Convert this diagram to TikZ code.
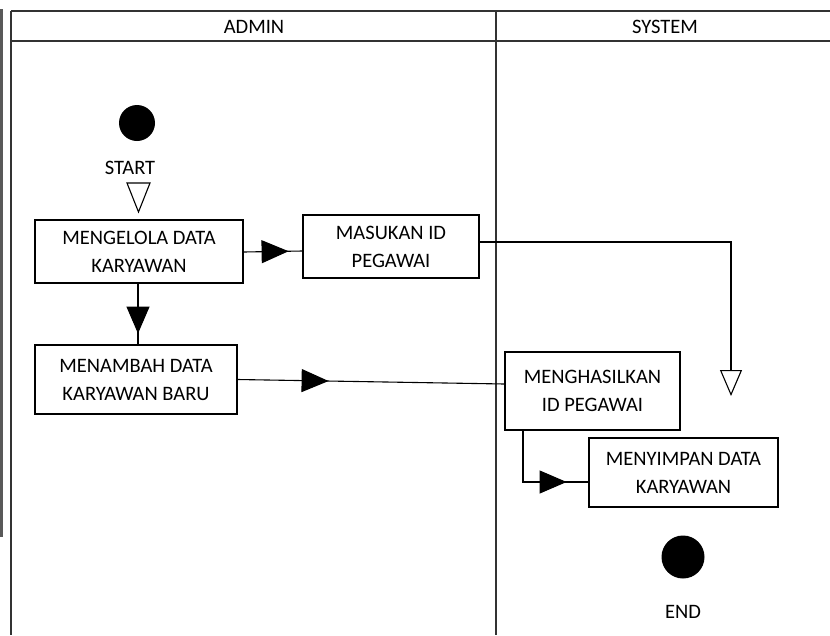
\documentclass[tikz,border=0pt]{standalone}
\usepackage{fontspec}
\setmainfont{Carlito}
\usetikzlibrary{arrows.meta,decorations.markings}
\tikzset{
  frameline/.style={line width=1.6pt, draw=black!80},
  actbox/.style={draw, line width=1.2pt, align=center, inner sep=0pt,
    font=\fontsize{20.5}{28}\selectfont},
  lbl/.style={inner sep=0pt, font=\fontsize{20.5}{24}\selectfont},
  conn/.style={line width=1.1pt},
  midtip/.style={postaction={decorate}, decoration={markings,
    mark=at position #1 with {\arrow{Triangle[width=23pt,length=27pt]}}}},
  opentip/.style={-{Triangle[open,width=22pt,length=26pt,line width=1.1pt]}},
  dot/.style={circle, fill=black, inner sep=0pt}
}
\begin{document}
\begin{tikzpicture}[x=1pt,y=-1pt]
\useasboundingbox (0,0) rectangle (830,635);
% stray bar at left edge
\draw[line width=2.4pt, draw=black!65] (1.3,9) -- (1.3,537);
% swimlane frame
\coordinate (tl) at (11,11);
\coordinate (tr) at (830,11);
\coordinate (hl) at (11,41);
\coordinate (hr) at (830,41);
\coordinate (bl) at (11,635);
\coordinate (dt) at (496,11);
\coordinate (db) at (496,635);
\draw[frameline] (tl) -- (tr);
\draw[frameline] (hl) -- (hr);
\draw[frameline] (tl) -- (bl);
\draw[frameline] (dt) -- (db);
\node[lbl] (admin) at (254,27) {ADMIN};
\node[lbl] (system) at (665,27) {SYSTEM};
% start
\node[dot, minimum size=36pt] (start) at (137,123) {};
\node[lbl] (startlbl) at (130,168) {START};
\coordinate (sa1) at (127,183);
\coordinate (sa2) at (150,183);
\coordinate (sa3) at (138.5,212);
\draw[line width=1.1pt, line join=miter] (sa1) -- (sa2) -- (sa3) -- cycle;
% activities
\node[actbox, minimum width=208pt, minimum height=63pt] (kelola) at (139,251.5) {MENGELOLA DATA\\KARYAWAN};
\node[actbox, minimum width=176pt, minimum height=63pt] (masukan) at (391,246.5) {MASUKAN ID\\PEGAWAI};
\node[actbox, minimum width=202pt, minimum height=69pt] (tambah) at (136,379.5) {MENAMBAH DATA\\KARYAWAN BARU};
\node[actbox, minimum width=175pt, minimum height=78pt] (hasil) at (592.5,391) {MENGHASILKAN\\ID PEGAWAI};
\node[actbox, minimum width=189pt, minimum height=69pt] (simpan) at (683.5,472.5) {MENYIMPAN DATA\\KARYAWAN};
% end
\node[dot, minimum size=43pt] (end) at (683,557) {};
\node[lbl] (endlbl) at (683,612) {END};
% connectors
\draw[conn, midtip=45pt] ([yshift=-0.5pt]kelola.east) -- ([yshift=-4.5pt]masukan.west);
\draw[conn, midtip=50pt] (kelola.south -| 138,0) -- (tambah.north -| 138,0);
\coordinate (sysarr) at (731,396);
\draw[conn, opentip] ([yshift=4.5pt]masukan.east) -| (sysarr);
\draw[conn, midtip=91pt] (tambah.east) -- ([yshift=7pt]hasil.west);
\draw[conn, midtip=95pt] (hasil.south -| 523,0) |- ([yshift=-9.5pt]simpan.west);
\end{tikzpicture}
\end{document}
